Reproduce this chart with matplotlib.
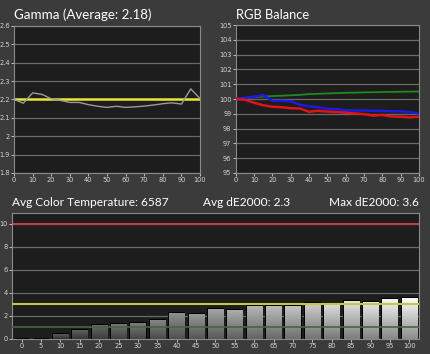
import numpy as np
import matplotlib
matplotlib.use("Agg")
import matplotlib.pyplot as plt

# data
gamma_x = [0, 5, 10, 15, 20, 25, 30, 35, 40, 45, 50, 55, 60, 65, 70, 75, 80, 85, 90, 95, 100]
gamma_y = [2.20, 2.18, 2.236, 2.228, 2.204, 2.195, 2.184, 2.184, 2.172, 2.163, 2.157, 2.163,
           2.157, 2.16, 2.164, 2.17, 2.177, 2.182, 2.175, 2.258, 2.205]
gamma_target = 2.2

rgb_x = gamma_x
red_y = [100.0, 99.95, 99.75, 99.58, 99.48, 99.45, 99.38, 99.36, 99.14, 99.2, 99.15, 99.12,
         99.08, 99.02, 98.98, 98.88, 98.92, 98.82, 98.8, 98.76, 98.8]
green_y = [100.0, 100.08, 100.12, 100.16, 100.2, 100.22, 100.25, 100.28, 100.33, 100.35, 100.38,
           100.4, 100.42, 100.43, 100.45, 100.46, 100.47, 100.48, 100.49, 100.5, 100.51]
blue_y = [100.0, 100.08, 100.15, 100.27, 99.88, 99.88, 99.85, 99.62, 99.5, 99.45, 99.33, 99.32,
          99.24, 99.22, 99.22, 99.2, 99.2, 99.17, 99.17, 99.12, 99.02]

de_labels = ["0", "5", "10", "15", "20", "25", "30", "35", "40", "45", "50",
             "55", "60", "65", "70", "75", "80", "85", "90", "95", "100"]
de_values = [0.0, 0.03, 0.4, 0.8, 1.25, 1.3, 1.43, 1.66, 2.27, 2.19, 2.6,
             2.5, 2.83, 2.9, 2.9, 3.15, 2.95, 3.3, 3.25, 3.45, 3.6]

fig_bg = "#3b3b3b"
ax_bg = "#1d1d1d"
grid_c = "#6a6a6a"
tick_c = "#d4d4d4"
font = ["Lato", "DejaVu Sans"]

fig = plt.figure(figsize=(4.30, 3.54), dpi=100)
fig.patch.set_facecolor(fig_bg)


def style(ax):
    ax.set_facecolor(ax_bg)
    for s in ax.spines.values():
        s.set_color("#8a8a8a")
        s.set_linewidth(0.8)
    ax.tick_params(colors=tick_c, labelsize=4.8, length=2, width=0.6, pad=1)
    ax.grid(axis="y", color=grid_c, linewidth=0.9)
    ax.set_axisbelow(True)


# Gamma
ax1 = fig.add_axes([0.0326, 0.5113, 0.4326, 0.4153])
style(ax1)
ax1.plot(gamma_x, gamma_y, color="#9a9a9a", linewidth=1.0, zorder=3)
ax1.axhline(gamma_target, color="#e8e832", linewidth=1.8, zorder=2)
ax1.set_xlim(0, 100)
ax1.set_ylim(1.8, 2.6)
ax1.set_xticks(range(0, 101, 10))
ax1.set_yticks(np.arange(1.8, 2.61, 0.1))
ax1.set_yticklabels([f"{v:g}" for v in np.round(np.arange(1.8, 2.61, 0.1), 1)])
fig.text(0.0326, 0.946, "Gamma (Average: 2.18)", color="white", fontsize=9.6, family=font, va="baseline")

# RGB balance
ax2 = fig.add_axes([0.548, 0.5113, 0.4263, 0.418])
style(ax2)
ax2.plot(rgb_x, green_y, color="#1f8a1f", linewidth=1.3, zorder=3)
ax2.plot(rgb_x, blue_y, color="#1a1ae0", linewidth=1.8, zorder=3)
ax2.plot(rgb_x, red_y, color="#e01414", linewidth=1.8, zorder=4)
ax2.set_xlim(0, 100)
ax2.set_ylim(95, 105)
ax2.set_xticks(range(0, 101, 10))
ax2.set_yticks(range(95, 106))
fig.text(0.548, 0.946, "RGB Balance", color="white", fontsize=9.3, family=font, va="baseline")

# dE2000 bars
ax3 = fig.add_axes([0.0279, 0.0424, 0.9465, 0.356])
style(ax3)
ax3.set_xlim(-0.5, len(de_values) - 0.5)
ax3.set_ylim(0, 10.95)
ax3.set_yticks([0, 2, 4, 6, 8, 10])
ax3.set_xticks(range(len(de_labels)))
ax3.set_xticklabels(de_labels)
ax3.axhline(10, color="#b84040", linewidth=1.5, zorder=2)
ax3.axhline(3, color="#c8c83c", linewidth=1.5, zorder=5)
ax3.axhline(1, color="#3f6a3f", linewidth=1.2, zorder=5)

bars = ax3.bar(range(len(de_values)), de_values, width=0.78, color="none",
               edgecolor="black", linewidth=1.4, zorder=3)
n = len(de_values)
for i, b in enumerate(bars):
    if de_values[i] <= 0.05:
        continue
    top = 0.28 + 0.72 * i / (n - 1)
    bot = top * 0.55
    grad = np.clip(np.linspace(bot, top, 64).reshape(-1, 1), 0, 1)
    x0 = b.get_x()
    im = ax3.imshow(np.dstack([grad, grad, grad]), extent=[x0, x0 + b.get_width(), 0, de_values[i]],
                    origin="lower", aspect="auto", zorder=4)
    im.set_clip_path(b)

fig.text(0.0279, 0.418, "Avg Color Temperature: 6587", color="white", fontsize=8.6, family=font, va="baseline")
fig.text(0.472, 0.418, "Avg dE2000: 2.3", color="white", fontsize=8.6, family=font, va="baseline")
fig.text(0.974, 0.418, "Max dE2000: 3.6", color="white", fontsize=8.6, family=font, va="baseline", ha="right")

fig.savefig("out.png", dpi=100, facecolor=fig_bg)
